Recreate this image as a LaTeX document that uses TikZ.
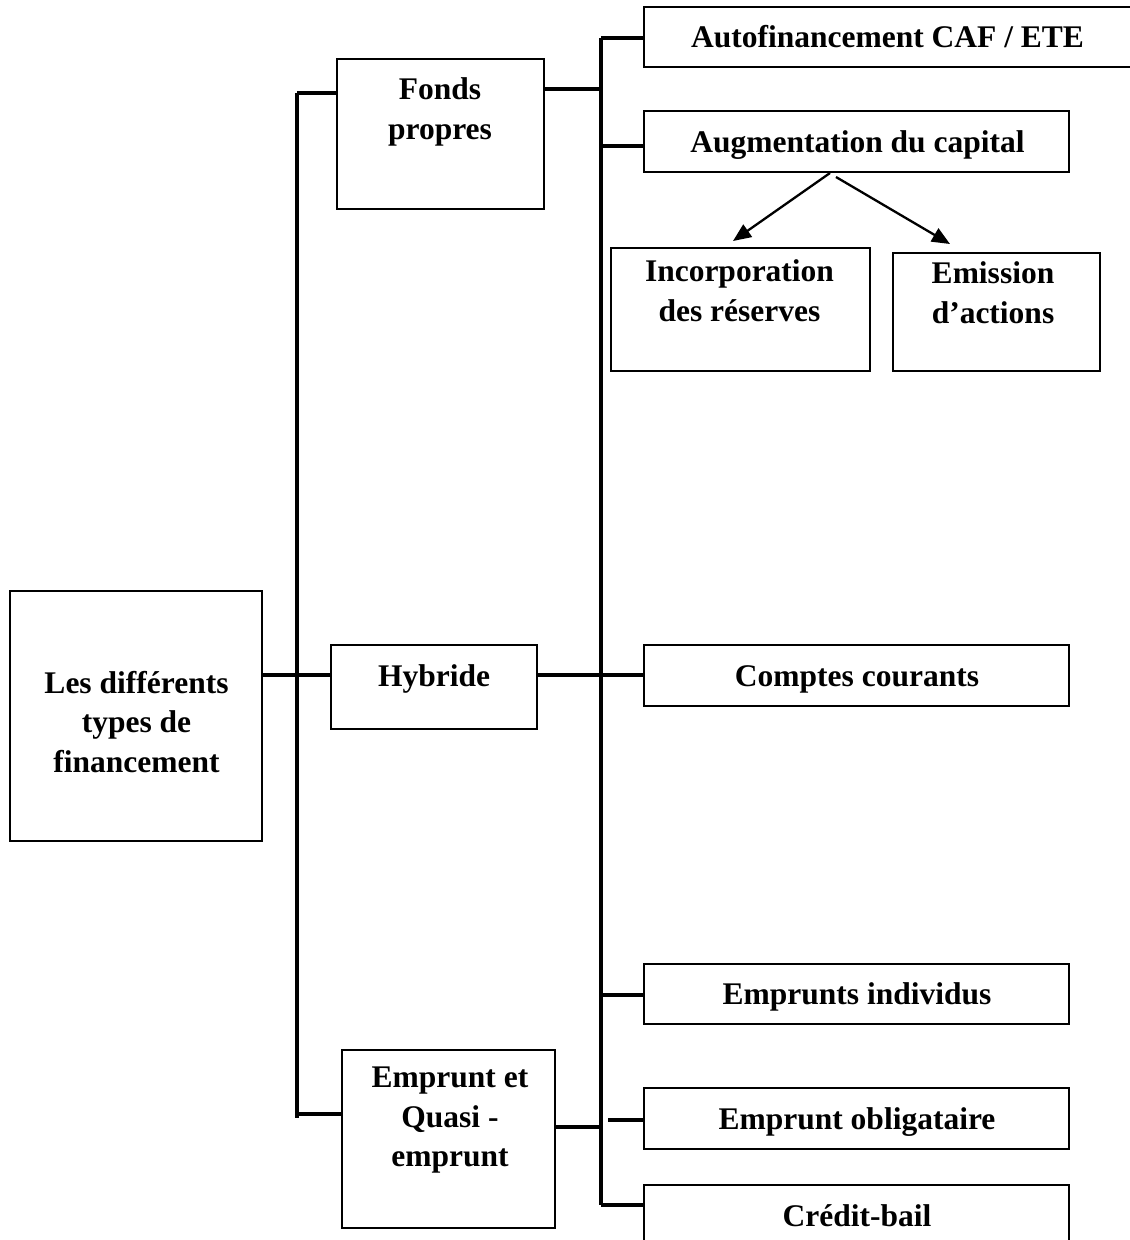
\documentclass[tikz,border=0pt]{standalone}
\usepackage{fontspec}
\setmainfont{Liberation Serif}
\usetikzlibrary{arrows.meta}
\begin{document}
\begin{tikzpicture}[x=1pt,y=-1pt,
  box/.style={draw, line width=1.5pt, rectangle, inner sep=0pt},
  txt/.style={font=\bfseries\fontsize{31.5}{39.5}\selectfont, align=center, inner sep=0pt, anchor=north},
  conn/.style={line width=3.4pt},
  arr/.style={line width=2.3pt, -{Triangle[length=18pt,width=15pt]}}]
\clip (0,0) rectangle (1130,1240);
\fill[white] (0,0) rectangle (1130,1240);
% boxes
\node[box, minimum width=252pt, minimum height=250pt] (root) at (136,716) {};
\node[box, minimum width=207pt, minimum height=150pt] (fonds) at (440.5,134) {};
\node[box, minimum width=206pt, minimum height=84pt] (hyb) at (434,687) {};
\node[box, minimum width=213pt, minimum height=178pt] (eq) at (448.5,1139) {};
\node[box, minimum width=506pt, minimum height=60pt] (auto) at (897,37) {};
\node[box, minimum width=425pt, minimum height=61pt] (aug) at (856.5,141.5) {};
\node[box, minimum width=259pt, minimum height=123pt] (inc) at (740.5,309.5) {};
\node[box, minimum width=207pt, minimum height=118pt] (emi) at (996.5,312) {};
\node[box, minimum width=425pt, minimum height=61pt] (cc) at (856.5,675.5) {};
\node[box, minimum width=425pt, minimum height=60pt] (ei) at (856.5,994) {};
\node[box, minimum width=425pt, minimum height=61pt] (eo) at (856.5,1118.5) {};
\node[box, minimum width=425pt, minimum height=75pt] (cb) at (856.5,1222.5) {};
% texts (north = baseline - 27.65)
\node[txt] (rootT) at (136.5,665.35) {\strut Les différents\\types de\\financement};
\node[txt] (fondsT) at (440,71.85) {\strut Fonds\\propres};
\node[txt] (hybT) at (434,658.85) {\strut Hybride};
\node[txt] (eqT) at (450,1059.85) {\strut Emprunt et\\Quasi -\\emprunt};
\node[txt] (autoT) at (887.5,19.85) {\strut Autofinancement CAF / ETE};
\node[txt] (augT) at (857.5,124.35) {\strut Augmentation du capital};
\node[txt] (incT) at (739.5,253.85) {\strut Incorporation\\des réserves};
\node[txt] (emiT) at (993,255.85) {\strut Emission\\d’actions};
\node[txt] (ccT) at (857,658.85) {\strut Comptes courants};
\node[txt] (eiT) at (857,976.35) {\strut Emprunts individus};
\node[txt] (eoT) at (857,1101.35) {\strut Emprunt obligataire};
\node[txt] (cbT) at (857,1198.35) {\strut Crédit-bail};
% trunk points
\coordinate (L1) at (297,93);
\coordinate (L2) at (297,1118);
\coordinate (R1) at (601,38);
\coordinate (R2) at (601,1205);
\coordinate (Rob) at (608,1120);
% trunks
\draw[conn] (L1) -- (L2);
\draw[conn] (R1) -- (R2);
% connectors
\draw[conn] (L1) -- (L1 -| fonds.west);
\draw[conn] (fonds.east |- 0,89) -- (601,89);
\draw[conn] (R1) -- (R1 -| auto.west);
\draw[conn] (601,146) -- (aug.west |- 0,146);
\draw[conn] (root.east |- 0,675) -- (hyb.west |- 0,675);
\draw[conn] (hyb.east |- 0,675) -- (cc.west |- 0,675);
\draw[conn] (601,995) -- (ei.west |- 0,995);
\draw[conn] (297,1114) -- (eq.west |- 0,1114);
\draw[conn] (eq.east |- 0,1127) -- (601,1127);
\draw[conn] (Rob) -- (Rob -| eo.west);
\draw[conn] (R2) -- (R2 -| cb.west);
% arrows
\draw[arr] (830,173) -- (733,241);
\draw[arr] (836,177) -- (950,244);
\end{tikzpicture}
\end{document}
